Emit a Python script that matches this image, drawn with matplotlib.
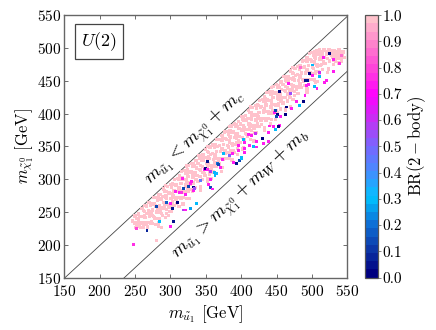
import numpy as np
import matplotlib
matplotlib.use("Agg")
import matplotlib.pyplot as plt
from matplotlib.colors import LinearSegmentedColormap

plt.rcParams['font.family'] = 'serif'
plt.rcParams['font.serif'] = ['cmr10']
plt.rcParams['mathtext.fontset'] = 'cm'
plt.rcParams['axes.formatter.use_mathtext'] = True
plt.rcParams['axes.unicode_minus'] = False

# masses (GeV) of points with BR(2-body) = 1
pink_pts = [
    (250, 244), (252, 240), (249, 233), (253, 230), (251, 226), (247, 236),
    (255, 247), (257, 243), (254, 234), (258, 233), (256, 228), (255, 238),
    (260, 255), (262, 252), (259, 243), (263, 242), (261, 234), (258, 226), (262, 226),
    (266, 259), (264, 251), (267, 248), (265, 241), (263, 233), (266, 231), (268, 227),
    (270, 264), (272, 260), (269, 252), (273, 250), (271, 243), (268, 234), (272, 233),
    (276, 272), (274, 263), (277, 262), (275, 253), (273, 247), (276, 243), (278, 240), (275, 232),
    (280, 272), (282, 268), (279, 259), (283, 258), (281, 250), (278, 241), (282, 240), (279, 231),
    (286, 277), (284, 271), (287, 269), (285, 259), (283, 254), (286, 250), (288, 248), (285, 239),
    (290, 285), (292, 282), (289, 273), (293, 272), (291, 264), (288, 256), (292, 256), (289, 245),
    (296, 289), (294, 281), (297, 278), (295, 271), (293, 263), (296, 261), (298, 257), (295, 248),
    (300, 292), (302, 288), (299, 279), (303, 278), (301, 270), (298, 261), (302, 260), (299, 251),
    (306, 300), (304, 292), (307, 290), (305, 282), (303, 275), (306, 272), (308, 269), (305, 260),
    (310, 301), (312, 299), (309, 291), (313, 287), (311, 282), (308, 272), (312, 272), (309, 263),
    (316, 312), (314, 303), (317, 302), (315, 293), (313, 287), (316, 283), (318, 280), (315, 272),
    (320, 313), (322, 309), (319, 300), (323, 299), (321, 291), (318, 283), (322, 281), (319, 272),
    (326, 321), (324, 314), (327, 311), (325, 304), (323, 296), (326, 294), (328, 292), (325, 281),
    (330, 324), (332, 320), (329, 312), (333, 310), (331, 303), (328, 294), (332, 293), (329, 284),
    (336, 328), (334, 320), (337, 317), (335, 310), (333, 302), (336, 299), (338, 296), (335, 287),
    (340, 336), (342, 331), (339, 324), (343, 321), (341, 315), (338, 305), (342, 304), (339, 296),
    (346, 337), (344, 331), (347, 329), (345, 319), (343, 314), (346, 310), (348, 308), (345, 299),
    (350, 345), (352, 342), (349, 333), (353, 332), (351, 324), (348, 316), (352, 316), (349, 305),
    (356, 349), (354, 341), (357, 338), (355, 331), (353, 323), (356, 321), (358, 317), (355, 308),
    (360, 352), (362, 348), (359, 339), (363, 338), (361, 330), (358, 321), (362, 320), (359, 311),
    (366, 360), (364, 352), (367, 350), (365, 342), (363, 335), (366, 332), (368, 329), (365, 320),
    (370, 361), (372, 359), (369, 351), (373, 347), (371, 342), (368, 332), (372, 332), (369, 323),
    (376, 372), (374, 363), (377, 362), (375, 353), (373, 347), (376, 343), (378, 340), (375, 332),
    (380, 373), (382, 369), (379, 360), (383, 359), (381, 351), (378, 343), (382, 341), (379, 332),
    (386, 381), (384, 374), (387, 371), (385, 364), (383, 356), (386, 354), (388, 352), (385, 341),
    (390, 384), (392, 380), (389, 372), (393, 370), (391, 363), (388, 354), (392, 353), (389, 344),
    (396, 388), (394, 380), (397, 377), (395, 370), (393, 362), (396, 359), (398, 356), (395, 347),
    (400, 396), (402, 391), (399, 384), (403, 381), (401, 375), (398, 365), (402, 364), (399, 356),
    (406, 397), (404, 391), (407, 389), (405, 379), (403, 374), (406, 370), (408, 368), (405, 359),
    (410, 405), (412, 402), (409, 393), (413, 392), (411, 384), (408, 376), (412, 376), (409, 365),
    (416, 409), (414, 401), (417, 398), (415, 391), (413, 383), (416, 381), (418, 377), (415, 368),
    (420, 412), (422, 408), (419, 399), (423, 398), (421, 390), (418, 381), (422, 380), (419, 371),
    (426, 420), (424, 412), (427, 410), (425, 402), (423, 395), (426, 392), (428, 389), (425, 380),
    (430, 421), (432, 419), (429, 411), (433, 407), (431, 402), (428, 392), (432, 392), (429, 383),
    (436, 432), (434, 423), (437, 422), (435, 413), (433, 407), (436, 403), (438, 400), (435, 392),
    (440, 433), (442, 429), (439, 420), (443, 419), (441, 411), (438, 403), (442, 401), (439, 392),
    (446, 441), (444, 434), (447, 431), (445, 424), (443, 416), (446, 414), (448, 412), (445, 401),
    (450, 444), (452, 440), (449, 432), (453, 430), (451, 423), (448, 414), (452, 413), (449, 404),
    (456, 448), (454, 440), (457, 437), (455, 430), (453, 422), (456, 419), (458, 416), (455, 407),
    (460, 456), (462, 451), (459, 444), (463, 441), (461, 435), (458, 425), (462, 424), (459, 416),
    (466, 457), (464, 451), (467, 449), (465, 439), (463, 434), (466, 430), (468, 428), (465, 419),
    (470, 465), (472, 462), (469, 453), (473, 452), (471, 444), (468, 436), (472, 436), (469, 425),
    (476, 469), (474, 461), (477, 458), (475, 451), (473, 443), (476, 441), (478, 437), (475, 428),
    (480, 472), (482, 468), (479, 459), (483, 458), (481, 450), (478, 441), (482, 440), (479, 431),
    (486, 480), (484, 472), (487, 470), (485, 462), (483, 455), (486, 452), (488, 449), (485, 440),
    (490, 481), (492, 479), (489, 471), (493, 467), (491, 462), (488, 452), (492, 452), (489, 443),
    (496, 492), (494, 483), (497, 482), (495, 473), (493, 467), (496, 463), (498, 460), (495, 452),
    (500, 493), (502, 489), (499, 480), (503, 479), (501, 471), (498, 463), (502, 461), (499, 452),
    (506, 496), (504, 494), (507, 491), (505, 484), (503, 476), (506, 474), (508, 472), (505, 461),
    (510, 497), (512, 495), (509, 492), (513, 490), (511, 483), (508, 474), (512, 473), (509, 464),
    (514, 494), (517, 497), (515, 490), (513, 482), (516, 479), (518, 476), (515, 467),
    (521, 495), (520, 491), (523, 497), (518, 485), (522, 484), (519, 476),
    (524, 497), (523, 494), (526, 490), (528, 488), (525, 479), (527, 493),
    (528, 496), (532, 496), (530, 492), (533, 489), (529, 485), (531, 481),
    (538, 497), (534, 494), (537, 491), (535, 488), (536, 484), (533, 480),
    (540, 495), (542, 492), (539, 488), (541, 484), (538, 478), (540, 490),
    (544, 494), (543, 489), (545, 486),
    # second pass, in between the columns above
    (263, 260), (264, 245), (262, 229),
    (273, 263), (272, 248), (274, 245), (273, 235),
    (283, 276), (284, 269), (282, 255), (285, 240), (283, 228),
    (293, 290), (294, 275), (292, 259), (295, 254), (293, 241),
    (303, 293), (302, 278), (304, 275), (303, 265), (301, 251),
    (313, 306), (314, 299), (312, 285), (315, 270), (313, 258),
    (323, 320), (324, 305), (322, 289), (325, 284), (323, 271),
    (333, 323), (332, 308), (334, 305), (333, 295), (331, 281),
    (343, 336), (344, 329), (342, 315), (345, 300), (343, 288),
    (353, 350), (354, 335), (352, 319), (355, 314), (353, 301),
    (363, 353), (362, 338), (364, 335), (363, 325), (361, 311),
    (373, 366), (374, 359), (372, 345), (375, 330), (373, 318),
    (383, 380), (384, 365), (382, 349), (385, 344), (383, 331),
    (393, 383), (392, 368), (394, 365), (393, 355), (391, 341),
    (403, 396), (404, 389), (402, 375), (405, 360), (403, 348),
    (413, 410), (414, 395), (412, 379), (415, 374), (413, 361),
    (423, 413), (422, 398), (424, 395), (423, 385), (421, 371),
    (433, 426), (434, 419), (432, 405), (435, 390), (433, 378),
    (443, 440), (444, 425), (442, 409), (445, 404), (443, 391),
    (453, 443), (452, 428), (454, 425), (453, 415), (451, 401),
    (463, 456), (464, 449), (462, 435), (465, 420), (463, 408),
    (473, 470), (474, 455), (472, 439), (475, 434), (473, 421),
    (483, 473), (482, 458), (484, 455), (483, 445), (481, 431),
    (493, 486), (494, 479), (492, 465), (495, 450), (493, 438),
    (504, 485), (502, 469), (505, 464), (503, 451),
    (512, 488), (514, 485), (513, 475), (511, 461),
    (522, 495), (525, 480), (523, 468),
    (535, 494), (533, 486), (542, 480),
    # sparse ones below the band
    (283, 233), (297, 245), (312, 258), (327, 270), (343, 283), (358, 301),
    (372, 312), (387, 329), (402, 346), (418, 358), (433, 375), (448, 391),
    (462, 405), (478, 418), (493, 433), (508, 449), (522, 463), (537, 476),
    (318, 262), (352, 297), (395, 338), (441, 384), (470, 410), (505, 447),
    (288, 226), (530, 475), (280, 207),
]

# points with BR(2-body) < 1: (m_stop, m_chi, BR)
mixed_pts = [
    (352, 327, 0.05), (366, 324, 0.20), (362, 310, 0.30), (356, 287, 0.15),
    (354, 292, 0.72), (348, 314, 0.72), (325, 289, 0.15), (328, 293, 0.75),
    (321, 277, 0.72), (310, 265, 0.03), (313, 279, 0.72), (316, 280, 0.78),
    (307, 281, 0.72), (300, 263, 0.72), (294, 264, 0.18), (303, 255, 0.05),
    (318, 253, 0.58), (328, 255, 0.28), (337, 263, 0.30), (285, 235, 0.30),
    (304, 235, 0.05), (300, 228, 0.72), (267, 222, 0.08), (252, 225, 0.80),
    (248, 200, 0.75), (365, 309, 0.32), (317, 301, 0.72), (318, 286, 0.15),
    (330, 296, 0.72), (332, 288, 0.03), (321, 253, 0.72), (281, 258, 0.15),
    (454, 433, 0.03), (451, 398, 0.03), (447, 401, 0.72), (456, 396, 0.72),
    (454, 382, 0.72), (449, 375, 0.30), (430, 362, 0.03), (432, 354, 0.72),
    (438, 358, 0.72), (415, 367, 0.72), (403, 360, 0.30), (405, 356, 0.72),
    (396, 344, 0.72), (375, 339, 0.30), (389, 326, 0.72), (398, 329, 0.15),
    (401, 331, 0.30), (393, 324, 0.05), (368, 323, 0.15), (349, 316, 0.03),
    (352, 314, 0.72), (356, 312, 0.58), (363, 306, 0.30), (356, 300, 0.72),
    (360, 285, 0.72), (332, 283, 0.72), (334, 286, 0.55), (371, 318, 0.72),
    (405, 347, 0.72), (422, 349, 0.72), (373, 330, 0.72),
    (525, 492, 0.03), (541, 489, 0.85), (539, 476, 0.75), (516, 486, 0.72),
    (501, 474, 0.30), (497, 461, 0.03), (500, 458, 0.72), (511, 456, 0.30),
    (518, 448, 0.72), (521, 450, 0.72), (490, 451, 0.05), (492, 443, 0.72),
    (504, 441, 0.30), (507, 438, 0.72), (490, 428, 0.72), (488, 418, 0.03),
    (482, 413, 0.30), (478, 418, 0.72), (467, 446, 0.72), (464, 410, 0.03),
    (471, 408, 0.72), (462, 398, 0.03), (448, 405, 0.15), (450, 395, 0.15),
    (446, 380, 0.72), (440, 381, 0.72), (438, 371, 0.72), (494, 451, 0.05),
    (495, 445, 0.72), (484, 470, 0.85), (530, 483, 0.72), (453, 380, 0.03),
    (422, 357, 0.72), (418, 350, 0.30), (412, 352, 0.72), (405, 340, 0.72),
    (400, 333, 0.30), (388, 339, 0.72), (396, 351, 0.72), (410, 368, 0.72),
    (530, 464, 0.72), (383, 336, 0.50), (342, 298, 0.45), (420, 370, 0.60),
    (470, 430, 0.55), (510, 462, 0.60),
]

m_c = 1.5
m_W = 80.4
m_b = 4.8
line_x = [150, 550]

cmap = LinearSegmentedColormap.from_list('br', [
    (0.0, (0.0, 0.0, 0.5)),
    (0.1, (0.05, 0.22, 0.66)),
    (0.2, (0.05, 0.45, 0.85)),
    (0.3, (0.0, 0.76, 1.0)),
    (0.4, (0.27, 0.55, 1.0)),
    (0.5, (0.47, 0.4, 1.0)),
    (0.6, (0.76, 0.2, 0.95)),
    (0.7, (1.0, 0.0, 1.0)),
    (0.8, (1.0, 0.25, 0.86)),
    (0.9, (1.0, 0.5, 0.8)),
    (1.0, (1.0, 0.76, 0.8)),
], N=32)

pink = np.array(pink_pts, dtype=float)
mixed = np.array(mixed_pts, dtype=float)

fig = plt.figure(figsize=(4.36, 3.30), dpi=100)
ax = fig.add_axes([0.147, 0.159, 0.650, 0.795])
cax = fig.add_axes([0.838, 0.159, 0.030, 0.795])

ax.plot(line_x, [v - m_c for v in line_x], color='#444444', lw=0.6, zorder=1)
ax.plot(line_x, [v - m_W - m_b for v in line_x], color='#444444', lw=0.6, zorder=1)

ax.scatter(pink[:, 0], pink[:, 1], c=np.ones(len(pink)), cmap=cmap, vmin=0, vmax=1,
           s=5.5, marker='s', linewidths=0, zorder=2)
sc = ax.scatter(mixed[:, 0], mixed[:, 1], c=mixed[:, 2], cmap=cmap, vmin=0, vmax=1,
                s=4.5, marker='s', linewidths=0, zorder=3)

ax.set_xlim(150, 550)
ax.set_ylim(150, 550)
ax.set_xticks(np.arange(150, 551, 50))
ax.set_yticks(np.arange(150, 551, 50))
ax.tick_params(direction='in', top=True, right=True, length=3, width=0.6,
               labelsize=11, color='#555555', pad=2)
ax.tick_params(axis='x', pad=4.5)
for s in ax.spines.values():
    s.set_color('#666666')
    s.set_linewidth(1.0)

ax.set_xlabel(r'$m_{\tilde{u}_1}$ [GeV]', fontsize=12, labelpad=3)
ax.set_ylabel(r'$m_{\tilde{\chi}_1^0}$ [GeV]', fontsize=12, labelpad=1)

ax.text(0.122, 0.90, r'$U(2)$', transform=ax.transAxes, ha='center', va='center',
        fontsize=13, bbox=dict(boxstyle='square,pad=0.35', fc='white', ec='#444444', lw=0.9))

ax.text(335, 362, r'$m_{\tilde{u}_1} < m_{\tilde{\chi}_1^0} + m_c$', rotation=43,
        ha='center', va='center', rotation_mode='anchor', fontsize=13.5)
ax.text(400, 276, r'$m_{\tilde{u}_1} > m_{\tilde{\chi}_1^0} + m_W + m_b$', rotation=43,
        ha='center', va='center', rotation_mode='anchor', fontsize=13.5)

cb = fig.colorbar(sc, cax=cax, ticks=np.arange(0, 1.01, 0.1))
cb.ax.set_yticklabels(['%.1f' % t for t in np.arange(0, 1.01, 0.1)])
cb.ax.tick_params(labelsize=11, length=2, width=0.5, color='#555555', pad=1)
cb.outline.set_edgecolor('#555555')
cb.outline.set_linewidth(0.9)
cb.set_label(r'$\mathrm{BR}(2-\mathrm{body})$', fontsize=12, labelpad=2)

fig.savefig('out.png', dpi=100)
